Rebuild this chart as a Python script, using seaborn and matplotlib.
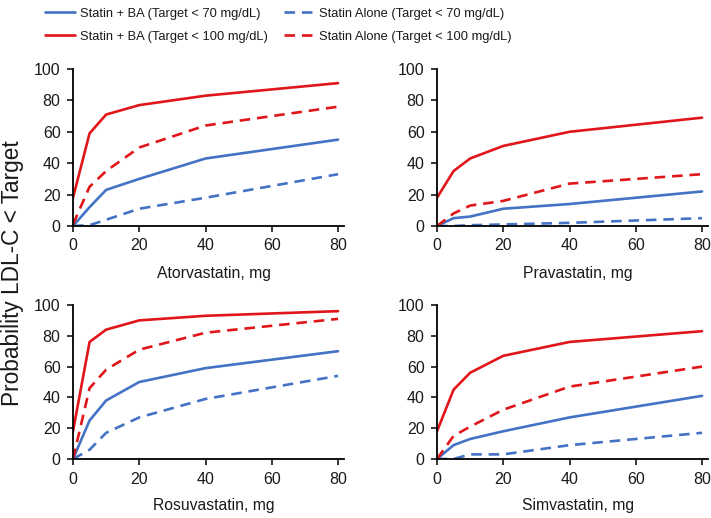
import matplotlib
matplotlib.use("Agg")
import matplotlib.pyplot as plt
import seaborn as sns
import pandas as pd
from matplotlib.lines import Line2D

sns.set_style("ticks")
plt.rcParams['font.family'] = ['Liberation Sans', 'DejaVu Sans']

doses = [0, 5, 10, 20, 40, 80]
drugs = ["Atorvastatin", "Pravastatin", "Rosuvastatin", "Simvastatin"]
series_names = ["Statin + BA (Target < 70 mg/dL)", "Statin + BA (Target < 100 mg/dL)",
                "Statin Alone (Target < 70 mg/dL)", "Statin Alone (Target < 100 mg/dL)"]

atorva_ba70 = [0, 12, 23, 30, 43, 55]
atorva_ba100 = [18, 59, 71, 77, 83, 91]
atorva_alone70 = [0, 0.5, 4, 11, 18, 33]
atorva_alone100 = [1, 25, 35, 50, 64, 76]

prava_ba70 = [0, 5, 6, 11, 14, 22]
prava_ba100 = [18, 35, 43, 51, 60, 69]
prava_alone70 = [0, 0, 0.5, 1, 2, 5]
prava_alone100 = [0, 8, 13, 16, 27, 33]

rosuva_ba70 = [0, 25, 38, 50, 59, 70]
rosuva_ba100 = [18, 76, 84, 90, 93, 96]
rosuva_alone70 = [0, 6, 17, 27, 39, 54]
rosuva_alone100 = [0, 46, 58, 71, 82, 91]

simva_ba70 = [0, 9, 13, 18, 27, 41]
simva_ba100 = [18, 45, 56, 67, 76, 83]
simva_alone70 = [0, 0, 3, 3, 9, 17]
simva_alone100 = [0, 15, 21, 32, 47, 60]

data = {
    "Atorvastatin": [atorva_ba70, atorva_ba100, atorva_alone70, atorva_alone100],
    "Pravastatin": [prava_ba70, prava_ba100, prava_alone70, prava_alone100],
    "Rosuvastatin": [rosuva_ba70, rosuva_ba100, rosuva_alone70, rosuva_alone100],
    "Simvastatin": [simva_ba70, simva_ba100, simva_alone70, simva_alone100],
}

BLUE = "#4472C4"
RED = "#E0161B"
colors = [BLUE, RED, BLUE, RED]
dashed = [False, False, True, True]

W, H = 711, 518
fig = plt.figure(figsize=(W / 100, H / 100), dpi=100)

positions = {
    "Atorvastatin": (73, 344, 69, 226),
    "Pravastatin": (437, 708, 69, 226),
    "Rosuvastatin": (73, 344, 305, 459),
    "Simvastatin": (437, 708, 305, 459),
}

TXT = "#1a1a1a"
for drug in drugs:
    l, r, t, b = positions[drug]
    ax = fig.add_axes([l / W, 1 - b / H, (r - l) / W, (b - t) / H])
    for i, name in enumerate(series_names):
        df = pd.DataFrame({"dose": doses, "p": data[drug][i]})
        sns.lineplot(data=df, x="dose", y="p", ax=ax, color=colors[i], lw=1.9,
                     dashes=False, legend=False)
        line = ax.lines[-1]
        if dashed[i]:
            line.set_dashes((4, 2.6))
    ax.set_xlim(0, 81.8)
    ax.set_ylim(0, 100)
    ax.set_xticks([0, 20, 40, 60, 80])
    ax.set_yticks([0, 20, 40, 60, 80, 100])
    ax.set_ylabel("")
    ax.set_xlabel(f"{drug}, mg", fontsize=11.3, color=TXT)
    ax.xaxis.set_label_coords(0.52, -0.255)
    for side in ["top", "right"]:
        ax.spines[side].set_visible(False)
    for side in ["left", "bottom"]:
        ax.spines[side].set_color("black")
        ax.spines[side].set_linewidth(1.3)
    ax.tick_params(axis="both", direction="out", length=4, width=1.1, color="black",
                   labelsize=11.5, labelcolor=TXT)
    ax.tick_params(axis="x", pad=5)
    ax.tick_params(axis="y", pad=5)
    ax.set_facecolor("white")

fig.text(13 / W, 1 - 273 / H, "Probability LDL-C < Target", rotation=90,
         ha="center", va="center", fontsize=16.3, color=TXT)

handles = [Line2D([], [], color=c, lw=1.9, linestyle=(0, (4, 2.6)) if d else "-")
           for c, d in zip(colors, dashed)]
fig.legend(handles, series_names, ncol=2, loc="upper left",
           bbox_to_anchor=(37 / W, 1.0), frameon=False,
           prop={"family": ["Liberation Sans Narrow", "Liberation Sans"], "size": 9.25},
           handlelength=2.33, handletextpad=0.39, columnspacing=1.3,
           borderpad=0.1, labelspacing=0.85, labelcolor=TXT)

fig.savefig("out.png", dpi=100, facecolor="white")
